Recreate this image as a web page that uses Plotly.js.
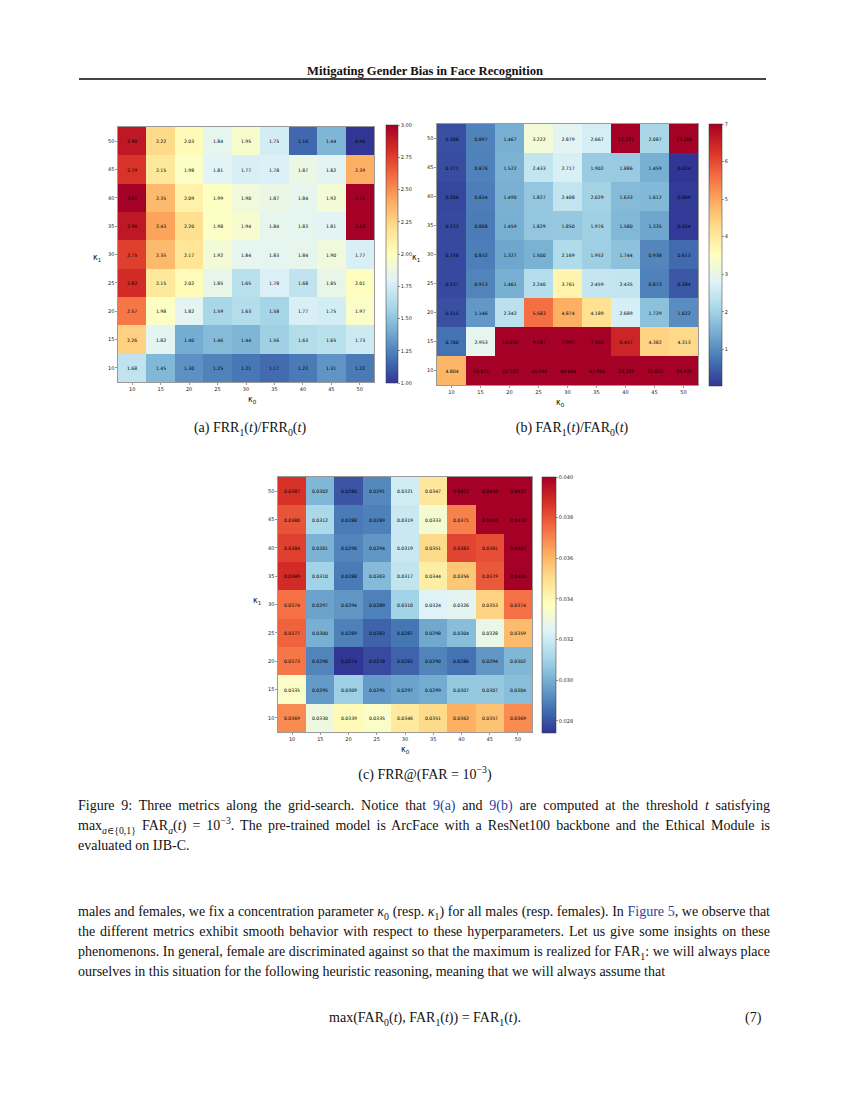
<!DOCTYPE html>
<html>
<head>
<meta charset="utf-8">
<script src="https://cdn.plot.ly/plotly-3.0.1.min.js"></script>
<style>
  body { margin:0; background:#fff; }
  #page { position:relative; width:850px; height:1100px; overflow:hidden; background:#fff; }
  #plot { position:absolute; left:0; top:0; width:850px; height:1100px; }
  .t { position:absolute; font-family:"Liberation Serif","DejaVu Serif",serif; color:#111; font-size:14px; white-space:nowrap; line-height:1; }
  .j { left:78px; width:692px; text-align:justify; text-align-last:justify; }
  .c { text-align:center; }
  .blue { color:#2a3f9e; }
  sub, sup { font-size:70%; line-height:0; }
</style>
</head>
<body>
<div id="page">
  <div id="plot"></div>
  <div class="t c" style="left:0;width:850px;top:65px;font-weight:bold;font-size:12.6px;">Mitigating Gender Bias in Face Recognition</div>
  <div style="position:absolute;left:79px;top:78px;width:687px;height:2px;background:#444;"></div>

  <div class="t c" style="left:150px;width:200px;top:421px;">(a) FRR<sub>1</sub>(<i>t</i>)/FRR<sub>0</sub>(<i>t</i>)</div>
  <div class="t c" style="left:472px;width:200px;top:421px;">(b) FAR<sub>1</sub>(<i>t</i>)/FAR<sub>0</sub>(<i>t</i>)</div>
  <div class="t c" style="left:300px;width:250px;top:768px;">(c) FRR@(FAR = 10<sup>−3</sup>)</div>

  <div class="t j" style="top:799px;">Figure 9: Three metrics along the grid-search. Notice that <span class="blue">9(a)</span> and <span class="blue">9(b)</span> are computed at the threshold <i>t</i> satisfying</div>
  <div class="t j" style="top:819px;">max<sub><i>a</i>∈{0,1}</sub> FAR<sub><i>a</i></sub>(<i>t</i>) = 10<sup>−3</sup>. The pre-trained model is ArcFace with a ResNet100 backbone and the Ethical Module is</div>
  <div class="t" style="left:78px;top:839px;">evaluated on IJB-C.</div>

  <div class="t j" style="top:905px;">males and females, we fix a concentration parameter <i>κ</i><sub>0</sub> (resp. <i>κ</i><sub>1</sub>) for all males (resp. females). In <span class="blue">Figure 5</span>, we observe that</div>
  <div class="t j" style="top:925px;">the different metrics exhibit smooth behavior with respect to these hyperparameters. Let us give some insights on these</div>
  <div class="t j" style="top:945px;">phenomenons. In general, female are discriminated against so that the maximum is realized for FAR<sub>1</sub>: we will always place</div>
  <div class="t" style="left:78px;top:965px;">ourselves in this situation for the following heuristic reasoning, meaning that we will always assume that</div>
  <div class="t c" style="left:225px;width:400px;top:1011px;">max(FAR<sub>0</sub>(<i>t</i>), FAR<sub>1</sub>(<i>t</i>)) = FAR<sub>1</sub>(<i>t</i>).</div>
  <div class="t" style="left:745px;top:1011px;">(7)</div>
</div>
<script>
// kappa_0 (columns) and kappa_1 (rows, listed top to bottom as shown)
const kappa0 = [10, 15, 20, 25, 30, 35, 40, 45, 50];
const kappa1 = [50, 45, 40, 35, 30, 25, 20, 15, 10];
const tickVals = [10, 15, 20, 25, 30, 35, 40, 45, 50];

// (a) FRR_1(t)/FRR_0(t)
const frrRatio = [
  [2.90, 2.22, 2.03, 1.84, 1.95, 1.75, 1.16, 1.44, 0.96],
  [2.79, 2.15, 1.98, 1.81, 1.77, 1.78, 1.87, 1.82, 2.39],
  [3.01, 2.35, 2.09, 1.99, 1.90, 1.87, 1.84, 1.92, 3.11],
  [2.90, 2.43, 2.20, 1.98, 1.94, 1.84, 1.83, 1.81, 3.03],
  [2.75, 2.35, 2.17, 1.92, 1.84, 1.83, 1.84, 1.90, 1.77],
  [2.82, 2.15, 2.02, 1.85, 1.65, 1.78, 1.68, 1.85, 2.01],
  [2.57, 1.98, 1.82, 1.59, 1.63, 1.58, 1.77, 1.75, 1.97],
  [2.26, 1.82, 1.40, 1.46, 1.44, 1.56, 1.63, 1.65, 1.73],
  [1.68, 1.45, 1.30, 1.25, 1.21, 1.17, 1.22, 1.31, 1.22]
];

// (b) FAR_1(t)/FAR_0(t)
const farRatio = [
  [0.308, 0.897, 1.467, 3.222, 2.879, 2.667, 11.221, 2.087, 13.380],
  [0.271, 0.876, 1.522, 2.433, 2.717, 1.902, 1.886, 1.459, 0.024],
  [0.206, 0.834, 1.490, 1.827, 2.408, 2.029, 1.633, 1.612, 0.069],
  [0.233, 0.808, 1.459, 1.829, 1.850, 1.976, 1.580, 1.335, 0.054],
  [0.238, 0.832, 1.327, 1.500, 2.169, 1.952, 1.744, 0.938, 0.613],
  [0.237, 0.913, 1.461, 2.240, 3.761, 2.459, 2.435, 0.873, 0.384],
  [0.315, 1.146, 2.342, 5.583, 4.874, 4.189, 2.689, 1.729, 1.022],
  [0.700, 2.953, 10.650, 9.707, 7.997, 7.560, 6.457, 4.382, 4.313],
  [4.804, 16.871, 22.722, 46.196, 44.664, 47.906, 33.222, 31.011, 29.931]
];

// (c) FRR@(FAR = 1e-3)
const frrAtFar = [
  [0.0387, 0.0302, 0.0280, 0.0291, 0.0321, 0.0347, 0.0422, 0.0430, 0.0427],
  [0.0380, 0.0312, 0.0288, 0.0289, 0.0319, 0.0333, 0.0371, 0.0400, 0.0410],
  [0.0384, 0.0301, 0.0290, 0.0294, 0.0319, 0.0351, 0.0383, 0.0381, 0.0407],
  [0.0389, 0.0310, 0.0288, 0.0303, 0.0317, 0.0344, 0.0356, 0.0379, 0.0404],
  [0.0374, 0.0297, 0.0294, 0.0289, 0.0310, 0.0324, 0.0326, 0.0353, 0.0374],
  [0.0377, 0.0300, 0.0289, 0.0283, 0.0287, 0.0298, 0.0304, 0.0328, 0.0359],
  [0.0373, 0.0290, 0.0274, 0.0278, 0.0283, 0.0290, 0.0286, 0.0294, 0.0302],
  [0.0335, 0.0295, 0.0309, 0.0295, 0.0297, 0.0299, 0.0307, 0.0307, 0.0304],
  [0.0369, 0.0330, 0.0339, 0.0335, 0.0346, 0.0351, 0.0362, 0.0357, 0.0369]
];

const cbTicksA = [1.00, 1.25, 1.50, 1.75, 2.00, 2.25, 2.50, 2.75, 3.00];
const cbTicksB = [1, 2, 3, 4, 5, 6, 7];
const cbTicksC = [0.028, 0.030, 0.032, 0.034, 0.036, 0.038, 0.040];

const RdYlBu_r = [
  [0.0, 'rgb(49,54,149)'], [0.1, 'rgb(69,117,180)'], [0.2, 'rgb(116,173,209)'],
  [0.3, 'rgb(171,217,233)'], [0.4, 'rgb(224,243,248)'], [0.5, 'rgb(255,255,191)'],
  [0.6, 'rgb(254,224,144)'], [0.7, 'rgb(253,174,97)'], [0.8, 'rgb(244,109,67)'],
  [0.9, 'rgb(215,48,39)'], [1.0, 'rgb(165,0,38)']
];

const W = 850, H = 1100;
const px = v => v / W;
const py = v => 1 - v / H;
const tickFont = {family: 'DejaVu Sans', size: 5, color: '#222'};

function cb(left, top, len, thick, ticks, fmt) {
  return {
    x: px(left), xanchor: 'left', xref: 'paper',
    y: py(top), yanchor: 'top', yref: 'paper',
    len: len, lenmode: 'pixels', thickness: thick, thicknessmode: 'pixels',
    outlinewidth: 0.5, outlinecolor: '#333',
    tickvals: ticks, ticktext: ticks.map(fmt),
    ticks: 'outside', ticklen: 2, tickwidth: 0.5, tickcolor: '#333',
    tickfont: tickFont, xpad: 0, ypad: 0
  };
}

function hm(z, xa, ya, zmin, zmax, tmpl, colorbar) {
  return {
    type: 'heatmap', x: kappa0, y: kappa1, z: z,
    xaxis: xa, yaxis: ya, zmin: zmin, zmax: zmax,
    colorscale: RdYlBu_r, colorbar: colorbar,
    texttemplate: tmpl, textfont: {family: 'DejaVu Sans', size: 4.6, color: '#000'},
    hoverinfo: 'skip', xgap: 0, ygap: 0
  };
}

const traces = [
  hm(frrRatio, 'x', 'y', 1.0, 3.0, '%{z:.2f}', cb(386, 125, 258, 12, cbTicksA, v => v.toFixed(2))),
  hm(farRatio, 'x2', 'y2', 0.024, 7.0, '%{z:.3f}', cb(709, 124, 262, 13, cbTicksB, v => String(v))),
  hm(frrAtFar, 'x3', 'y3', 0.0274, 0.040, '%{z:.4f}', cb(542, 477, 256, 14, cbTicksC, v => v.toFixed(3)))
];

function axis(domain, anchor) {
  return {
    domain: domain, anchor: anchor, range: [7.5, 52.5],
    tickvals: tickVals, ticktext: tickVals.map(String),
    ticks: 'outside', ticklen: 2, tickwidth: 0.5, tickcolor: '#333',
    tickfont: tickFont, showgrid: false, zeroline: false,
    showline: true, mirror: true, linecolor: '#555', linewidth: 0.6
  };
}

const kFont = {family: 'DejaVu Sans', size: 8, color: '#111'};
const layout = {
  width: W, height: H,
  margin: {l: 0, r: 0, t: 0, b: 0},
  paper_bgcolor: 'rgba(0,0,0,0)', plot_bgcolor: '#fff',
  showlegend: false,
  xaxis: axis([px(118), px(374)], 'y'),
  yaxis: axis([py(382), py(127)], 'x'),
  xaxis2: axis([px(437), px(698)], 'y2'),
  yaxis2: axis([py(385), py(124)], 'x2'),
  xaxis3: axis([px(278), px(532)], 'y3'),
  yaxis3: axis([py(732), py(477)], 'x3'),
  annotations: [
    {text: 'κ<sub>1</sub>', x: px(104), y: py(251), xref: 'paper', yref: 'paper', xanchor: 'right', showarrow: false, font: kFont},
    {text: 'κ<sub>0</sub>', x: px(246), y: py(393), xref: 'paper', yref: 'paper', yanchor: 'top', showarrow: false, font: kFont},
    {text: 'κ<sub>1</sub>', x: px(423), y: py(251), xref: 'paper', yref: 'paper', xanchor: 'right', showarrow: false, font: kFont},
    {text: 'κ<sub>0</sub>', x: px(567), y: py(396), xref: 'paper', yref: 'paper', yanchor: 'top', showarrow: false, font: kFont},
    {text: 'κ<sub>1</sub>', x: px(264), y: py(601), xref: 'paper', yref: 'paper', xanchor: 'right', showarrow: false, font: kFont},
    {text: 'κ<sub>0</sub>', x: px(405), y: py(743), xref: 'paper', yref: 'paper', yanchor: 'top', showarrow: false, font: kFont}
  ]
};

Plotly.newPlot('plot', traces, layout, {staticPlot: true, displayModeBar: false});
</script>
</body>
</html>
